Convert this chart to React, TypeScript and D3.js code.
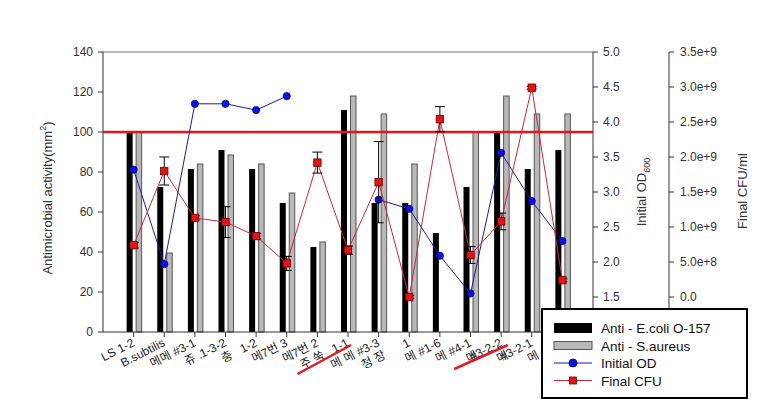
import React from "react";
import * as d3 from "d3";

const categories = ["LS 1-2", "B.subtilis", "#3-1", "1-3-2", "1-2", ".7번 3", ".7번 2", "1-1", "#3-3", "1", "#1-6", "#4-1", "#3-2-2", "#3-2-1", ""];
const subLabels = ["", "메메", "쥬 .", "충", "메", "메", "주 쑥", "메 메", "청 장", "메", "메", "메", "메", "메", ""];
const ecoli = [100, 72.5, 81.5, 91, 81.5, 64.5, 42.5, 111, 64.5, 64.5, 49.5, 72.5, 100, 81.5, 91];
const saureus = [100, 39.5, 84, 88.5, 84, 69.5, 45, 118, 109, 84, 0, 100, 118, 109, 109];
const initialOD: (number | null)[] = [3.32, 1.97, 4.26, 4.26, 4.17, 4.37, null, null, 2.89, 2.76, 2.09, 1.55, 3.56, 2.87, 2.3];
const finalCFU = [0.74e9, 1.8e9, 1.13e9, 1.07e9, 0.87e9, 0.48e9, 1.92e9, 0.67e9, 1.64e9, 0.0, 2.54e9, 0.6e9, 1.08e9, 2.99e9, 0.24e9];
const cfuErr = [0.04e9, 0.2e9, 0.03e9, 0.22e9, 0.04e9, 0.1e9, 0.15e9, 0.06e9, 0.58e9, 0.02e9, 0.18e9, 0.12e9, 0.12e9, 0.02e9, 0.02e9];
const leftTicks = [0, 20, 40, 60, 80, 100, 120, 140];
const odTicks = [1.5, 2.0, 2.5, 3.0, 3.5, 4.0, 4.5, 5.0];
const cfuTicks = [0, 5e8, 1e9, 1.5e9, 2e9, 2.5e9, 3e9, 3.5e9];
const refValue = 100;
const legendItems = ["Anti - E.coli O-157", "Anti - S.aureus", "Initial OD", "Final CFU"];

const FONT = "'Liberation Sans', Arial, 'Noto Sans CJK KR', sans-serif";

export default function App() {
  const left = 103, right = 593, top = 52, bottom = 332;
  const x = d3.scaleLinear().domain([0, 16]).range([left, right]);
  const y = d3.scaleLinear().domain([0, 140]).range([bottom, top]);
  const yOD = d3.scaleLinear().domain([1, 5]).range([bottom, top]);
  const yCFU = d3.scaleLinear().domain([-5e8, 3.5e9]).range([bottom, top]);
  const cfuAxisX = 669;

  const idx = categories.map((_, i) => i + 1);

  const odLine = d3
    .line<number | null>()
    .defined((d) => d !== null)
    .x((_, i) => x(i + 1))
    .y((d) => yOD(d as number));
  const cfuLine = d3
    .line<number>()
    .x((_, i) => x(i + 1))
    .y((d) => yCFU(d));

  const fmtCFU = (v: number) => (v === 0 ? "0.0" : d3.format(".1e")(v));
  const tickColor = "#333";

  return (
    <svg width={782} height={403} style={{ position: "absolute", left: 0, top: 0, background: "#fff" }} fontFamily={FONT}>
      <rect x={0} y={0} width={782} height={403} fill="#fff" />
      {idx.map((c, i) => (
        <g key={"b" + i}>
          {ecoli[i] > 0 && (
            <rect x={x(c) - 7} y={y(ecoli[i])} width={6} height={y(0) - y(ecoli[i])} fill="#000" />
          )}
          {saureus[i] > 0 && (
            <rect x={x(c) + 2.5} y={y(saureus[i])} width={5.5} height={y(0) - y(saureus[i])} fill="#b8b8b8" stroke="#555" strokeWidth={1} />
          )}
        </g>
      ))}
      <line x1={left} x2={right} y1={top} y2={top} stroke="#777" strokeWidth={1} />
      <line x1={left} x2={left} y1={top} y2={bottom} stroke="#333" strokeWidth={1} />
      <line x1={right} x2={right} y1={top} y2={bottom} stroke="#333" strokeWidth={1} />
      <line x1={left} x2={right} y1={bottom} y2={bottom} stroke="#333" strokeWidth={1} />
      <line x1={left} x2={right} y1={y(refValue)} y2={y(refValue)} stroke="#e8141c" strokeWidth={2.5} />
      {leftTicks.map((t) => (
        <g key={"l" + t}>
          <line x1={left - 5} x2={left} y1={y(t)} y2={y(t)} stroke="#333" />
          <text x={left - 10} y={y(t) + 4} textAnchor="end" fontSize={12} fill={tickColor}>{t}</text>
        </g>
      ))}
      <text transform={`translate(52,${(top + bottom) / 2 + 6}) rotate(-90)`} textAnchor="middle" fontSize={13} fill="#333">
        Antimicrobial activity(mm<tspan dy={-6} fontSize={9}>2</tspan><tspan dy={6}>)</tspan>
      </text>
      {odTicks.map((t) => (
        <g key={"o" + t}>
          <line x1={right} x2={right + 5} y1={yOD(t)} y2={yOD(t)} stroke="#333" />
          <text x={right + 10} y={yOD(t) + 4} fontSize={12} fill={tickColor}>{t.toFixed(1)}</text>
        </g>
      ))}
      <text transform={`translate(646,192) rotate(-90)`} textAnchor="middle" fontSize={13} fill="#333">
        Initial OD<tspan dy={4} fontSize={9}>600</tspan>
      </text>
      <line x1={cfuAxisX} x2={cfuAxisX} y1={top} y2={bottom} stroke="#333" />
      {cfuTicks.map((t) => (
        <g key={"c" + t}>
          <line x1={cfuAxisX} x2={cfuAxisX + 5} y1={yCFU(t)} y2={yCFU(t)} stroke="#333" />
          <text x={cfuAxisX + 11} y={yCFU(t) + 4} fontSize={12} fill={tickColor}>{fmtCFU(t)}</text>
        </g>
      ))}
      <text transform={`translate(747,191) rotate(-90)`} textAnchor="middle" fontSize={13} fill="#333">
        Final CFU/ml
      </text>
      {idx.map((c, i) => (
        <g key={"x" + i}>
          <line x1={x(c)} x2={x(c)} y1={bottom} y2={bottom + 5} stroke="#333" />
          <g transform={`translate(${x(c) - 1},${bottom + 8}) rotate(-27)`}>
            <text textAnchor="end" fontSize={12} fill="#222">
              <tspan x={0} dy="0.5em">{categories[i]}</tspan>
              {subLabels[i] && (
                <tspan x={0} dy="1.15em">{subLabels[i]}</tspan>
              )}
            </text>
          </g>
        </g>
      ))}
      <path d={odLine(initialOD) || ""} fill="none" stroke="#1c1c9c" strokeWidth={1} />
      {initialOD.map((v, i) =>
        v === null ? null : (
          <circle key={"od" + i} cx={x(i + 1)} cy={yOD(v)} r={3.6} fill="#0a14e6" stroke="#000080" strokeWidth={0.8} />
        )
      )}
      <path d={cfuLine(finalCFU) || ""} fill="none" stroke="#c8283c" strokeWidth={1} />
      {finalCFU.map((v, i) => (
        <g key={"cf" + i}>
          <line x1={x(i + 1)} x2={x(i + 1)} y1={yCFU(v + cfuErr[i])} y2={yCFU(v - cfuErr[i])} stroke="#000" strokeWidth={1} />
          <line x1={x(i + 1) - 5} x2={x(i + 1) + 5} y1={yCFU(v + cfuErr[i])} y2={yCFU(v + cfuErr[i])} stroke="#000" strokeWidth={1} />
          <line x1={x(i + 1) - 5} x2={x(i + 1) + 5} y1={yCFU(v - cfuErr[i])} y2={yCFU(v - cfuErr[i])} stroke="#000" strokeWidth={1} />
          <rect x={x(i + 1) - 3.7} y={yCFU(v) - 3.7} width={7.4} height={7.4} fill="#e41414" stroke="#6a0000" strokeWidth={0.8} />
        </g>
      ))}
      <line x1={x(6.35)} y1={374} x2={x(8.1)} y2={345} stroke="#e01c24" strokeWidth={2.5} />
      <line x1={x(11.47)} y1={369} x2={x(13.22)} y2={345} stroke="#e01c24" strokeWidth={2.5} />
      <g>
        <rect x={542} y={309} width={205} height={89} fill="#fff" stroke="#000" strokeWidth={2} />
        {legendItems.map((name, i) => {
          const cy = 328 + i * 17.5;
          return (
            <g key={"lg" + i}>
              {i === 0 && <rect x={554} y={cy - 5} width={38} height={10} fill="#000" />}
              {i === 1 && <rect x={554} y={cy - 4} width={38} height={8} fill="#b8b8b8" stroke="#555" />}
              {i === 2 && (
                <g>
                  <line x1={554} x2={592} y1={cy} y2={cy} stroke="#1c1c9c" />
                  <circle cx={573} cy={cy} r={4} fill="#0a14e6" stroke="#000080" strokeWidth={0.8} />
                </g>
              )}
              {i === 3 && (
                <g>
                  <line x1={554} x2={592} y1={cy} y2={cy} stroke="#c8283c" />
                  <rect x={569.5} y={cy - 3.5} width={7} height={7} fill="#e41414" stroke="#6a0000" strokeWidth={0.8} />
                </g>
              )}
              <text x={601} y={cy + 5} fontSize={13.5} fill="#111">{name}</text>
            </g>
          );
        })}
      </g>
    </svg>
  );
}
